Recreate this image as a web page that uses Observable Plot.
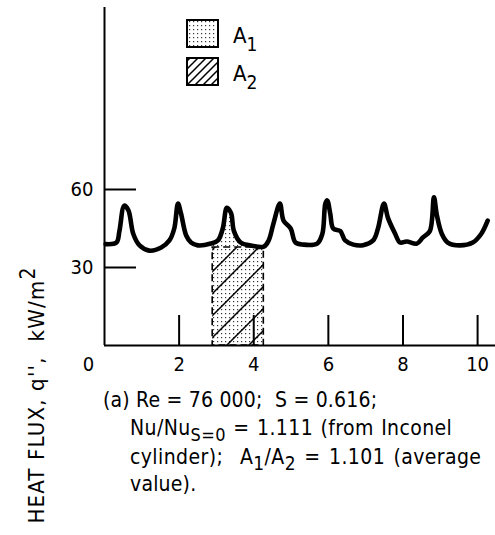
<!DOCTYPE html>
<html><head><meta charset="utf-8">
<script src="https://cdn.jsdelivr.net/npm/d3@7"></script>
<script src="https://cdn.jsdelivr.net/npm/@observablehq/plot@0.6"></script>
<style>
body{margin:0;background:#fff}
#chart{width:495px;height:535px}
#chart svg{font-family:"DejaVu Sans Condensed","Liberation Sans Narrow",sans-serif}
</style>
</head><body><div id="chart"></div>
<script>
// Distance along cylinder (x) and heat flux q'' (kW/m^2)
const xPos = [0.03,0.32,0.40,0.53,0.64,0.77,0.94,1.20,1.52,1.74,1.87,1.97,2.05,2.19,2.32,2.50,2.85,3.04,3.17,3.28,3.39,3.47,3.65,3.92,4.27,4.40,4.53,4.70,4.80,4.99,5.12,5.33,5.70,5.84,5.92,5.97,6.05,6.13,6.32,6.45,6.67,6.93,7.20,7.33,7.49,7.60,7.79,7.92,8.10,8.37,8.53,8.72,8.83,8.91,9.04,9.20,9.52,9.87,10.10,10.27];
const heatFlux = [39.0,39.6,44,53.8,52,43,38.5,36.5,37.7,40.4,45,54.6,50.8,42.3,39.6,38.5,39.2,40.4,45,53,51,44,39.6,38.5,38,40.4,47,54.6,48,45,39.6,38.8,39.2,43,54.6,55.8,50.8,45,44,40.4,38.8,38.6,40.4,45,54.6,49,43,39.6,40,39.2,41.5,44,57,50,43,39.6,38.5,39.6,43,48];
const a2Span = [2.9, 4.27];   // x extent of the averaging rectangle
const a2Height = 37.7;         // average heat flux (rect top)
const xTickVals = [2,4,6,8,10];
const xLabelVals = [2,4,6,8,10];
const originLabel = [0];
const yTickVals = [30,60];

const curve = xPos.map((x,i)=>({x, q: heatFlux[i]}));
function interp(x){
  for(let i=1;i<curve.length;i++){
    if(curve[i].x>=x){const a=curve[i-1],b=curve[i];const t=(x-a.x)/(b.x-a.x);return a.q+t*(b.q-a.q);}
  }
  return curve[curve.length-1].q;
}
const a1Area = [{x:a2Span[0],q:interp(a2Span[0])}, ...curve.filter(d=>d.x>a2Span[0]&&d.x<a2Span[1]), {x:a2Span[1],q:interp(a2Span[1])}];

const W=495,H=535,mL=104,mR=0,mT=7,mB=190;
const plotW=W-mL-mR, plotH=H-mT-mB;

const chart = Plot.plot({
  width:W, height:H, marginLeft:mL, marginRight:mR, marginTop:mT, marginBottom:mB,
  x:{domain:[0,10.48], axis:null},
  y:{domain:[0,130], axis:null},
  style:{background:"#fff", color:"#000"},
  marks:[
    Plot.rect([a2Height],{x1:()=>a2Span[0],x2:()=>a2Span[1],y1:0,y2:d=>d,fill:"#fff",fillOpacity:0,stroke:"#000",strokeWidth:1.6,strokeDasharray:"7,4",className:"a2rect"}),
    Plot.ruleX([0],{stroke:"#000",strokeWidth:2}),
    Plot.ruleY([0],{stroke:"#000",strokeWidth:2}),
    Plot.tickX(xTickVals,{x:d=>d,stroke:"#000",strokeWidth:2,insetTop:plotH-30}),
    Plot.tickY(yTickVals,{y:d=>d,stroke:"#000",strokeWidth:2,insetRight:plotW-32}),
    Plot.line(curve,{x:"x",y:"q",stroke:"#000",strokeWidth:4.6,curve:"catmull-rom",strokeLinejoin:"round"}),
    Plot.text(yTickVals,{x:0,y:d=>d,text:d=>String(d),textAnchor:"end",dx:-11,fontSize:20}),
    Plot.text(xLabelVals,{x:d=>d,y:0,text:d=>String(d),dy:19,fontSize:20}),
    Plot.text(originLabel,{x:d=>d,y:0,text:d=>String(d),dy:19,dx:-16,fontSize:20})
  ]
});
document.getElementById("chart").appendChild(chart);

const svg = d3.select(chart);
const defs = svg.insert("defs",":first-child");
const dots = defs.append("pattern").attr("id","dotsP").attr("patternUnits","userSpaceOnUse").attr("width",4).attr("height",4);
dots.append("rect").attr("width",4).attr("height",4).attr("fill","#fff");
dots.append("rect").attr("x",1).attr("y",1).attr("width",1.2).attr("height",1.2).attr("fill","#333");
function hatch(id,s,w){
  const p = defs.append("pattern").attr("id",id).attr("patternUnits","userSpaceOnUse").attr("width",s).attr("height",s);
  p.append("path").attr("d",`M${-s},${s*2} L${s*2},${-s} M0,${s} L${s},0 M${-s},${s} L${s},${-s} M0,${s*2} L${s*2},0`).attr("stroke","#000").attr("stroke-width",w);
}
hatch("hatchBig",22,1.5);
hatch("hatchSmall",8,1.5);

// A1: dotted area under the curve across the rectangle span, through Plot's own scales
const sx = chart.scale("x"), sy = chart.scale("y");
const areaGen = d3.area().x(d=>sx.apply(d.x)).y0(sy.apply(0)).y1(d=>sy.apply(d.q)).curve(d3.curveCatmullRom);
const rectG = svg.select(".a2rect").node();
svg.insert("path", () => rectG).attr("d", areaGen(a1Area)).attr("fill","url(#dotsP)").attr("stroke","none");
svg.selectAll(".a2rect rect").attr("fill","url(#hatchBig)").attr("fill-opacity",1);
svg.selectAll(".a2rect").attr("fill","url(#hatchBig)").attr("fill-opacity",1);

function richText(g, x, y, parts, size, anchor="start", extra={}){
  const t = g.append("text").attr("x",x).attr("y",y).attr("font-size",size).attr("fill","#000").attr("text-anchor",anchor);
  for(const k in extra) t.style(k, extra[k]);
  let shift=0;
  for(const [s,sh,fs] of parts){
    const ts=t.append("tspan").text(s).attr("dy",sh-shift);
    if(fs) ts.attr("font-size",fs);
    shift=sh;
  }
  return t;
}

// Legend
const leg = svg.append("g");
leg.append("rect").attr("x",187).attr("y",20).attr("width",31).attr("height",27).attr("fill","url(#dotsP)").attr("stroke","#000").attr("stroke-width",2);
leg.append("rect").attr("x",187).attr("y",58).attr("width",31).attr("height",27).attr("fill","url(#hatchSmall)").attr("stroke","#000").attr("stroke-width",2);
richText(leg,233,43,[["A",0],["1",8,19]],22);
richText(leg,233,81,[["A",0],["2",8,19]],22);

// Y axis title (rotated)
const yt = svg.append("g").attr("transform","translate(44,395) rotate(-90)");
richText(yt,0,0,[["HEAT FLUX, q'',  kW/m",0],["2",-9,21]],22,"middle",{"letter-spacing":"1.2px"});

// Caption
const cap = svg.append("g");
const cs = {"letter-spacing":"0.2px"};
richText(cap,103,407,[["(a) Re = 76 000;  S = 0.616;",0]],21,"start",cs);
richText(cap,130,435,[["Nu/Nu",0],["S=0",6,18],[" = 1.111 (from Inconel",0]],21,"start",{"letter-spacing":"0.4px","word-spacing":"1px"});
richText(cap,130,464,[["cylinder);  A",0],["1",6,19],["/A",0],["2",6,19],[" = 1.101 (average",0]],21,"start",{"letter-spacing":"0.4px","word-spacing":"2px"});
richText(cap,130,491,[["value).",0]],21,"start",cs);
</script>
</body></html>
